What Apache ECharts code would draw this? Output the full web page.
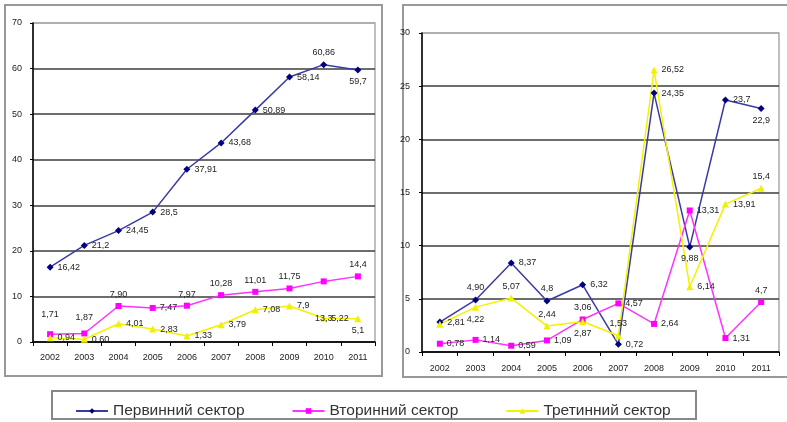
<!DOCTYPE html>
<html><head><meta charset="utf-8">
<script src="https://cdn.jsdelivr.net/npm/echarts@6/dist/echarts.min.js"></script>
<style>html,body{margin:0;padding:0;background:#fff}#c{width:787px;height:422px}</style>
</head><body><div id="c"></div>
<script>
// ---- data ----
const years = ['2002','2003','2004','2005','2006','2007','2008','2009','2010','2011'];
const seriesNames = ['Первинний сектор','Вторинний сектор','Третинний сектор'];
const leftYTicks = [0,10,20,30,40,50,60,70];
const rightYTicks = [0,5,10,15,20,25,30];
const leftPrimary   = ['16.42','21.2','24.45','28.5','37.91','43.68','50.89','58.14','60.86','59.7'];
const leftSecondary = ['1.71','1.87','7.90','7.47','7.97','10.28','11.01','11.75','13.3','14.4'];
const leftTertiary  = ['0.94','0.60','4.01','2.83','1.33','3.79','7.08','7.9','5.22','5.1'];
const rightPrimary   = ['2.81','4.90','8.37','4.8','6.32','0.72','24.35','9.88','23.7','22.9'];
const rightSecondary = ['0.78','1.14','0.59','1.09','3.06','4.57','2.64','13.31','1.31','4.7'];
const rightTertiary  = ['2.61','4.22','5.07','2.44','2.87','1.53','26.52','6.14','13.91','15.4'];

// ---- label placement (style) ----
const posLP = ['right','right','right','right','right','right','right','right','top','bottom'];
const posLS = ['top:12','top:8','top','right','top','top','top','top','bottom:30','top'];
const posLT = ['right','right','right','right','right','right','right','right','right','bottom'];
const posRP = ['right','top','right','top','right','right','right','bottom','right','bottom'];
const posRS = ['right','right','right','right','top','right','right','right','right','top'];
const posRT = ['none','bottom','top','top','bottom','top','right','right','right','top'];

const colors = {
  p: {line:'#3a3aa6', mark:'#000080', sym:'diamond', size:7},
  s: {line:'#ff33ff', mark:'#ff00ff', sym:'rect', size:6},
  t: {line:'#f2f200', mark:'#f0f000', sym:'triangle', size:7}
};
const FONT = 'Liberation Sans, Arial, sans-serif';

function mkData(vals, pos){
  return vals.map((v,i)=>{
    const [p,d] = pos[i].split(':');
    if(p==='none') return {value:Number(v), label:{show:false}};
    return {value:Number(v), label:{show:true, position:p, distance: d?Number(d):4,
      formatter: v.replace('.',',')}};
  });
}
function mkSeries(name, key, vals, pos, idx){
  const c = colors[key];
  return {
    name, type:'line', xAxisIndex:idx, yAxisIndex:idx,
    data: mkData(vals,pos),
    symbol:c.sym, symbolSize:c.size, showAllSymbol:true,
    lineStyle:{color:c.line, width:1.5},
    itemStyle:{color:c.mark},
    label:{color:'#222', fontSize:9, fontFamily:FONT},
    animation:false
  };
}
const gridColors = (n)=>{const a=[];for(let i=0;i<n-1;i++)a.push('#3c3c3c');a.push('#aaaaaa');return a;};

function xAx(idx, margin){
  return {type:'category', gridIndex:idx, data:years, boundaryGap:true,
    axisLine:{lineStyle:{color:'#000', width:1.5}},
    axisTick:{show:true, length:4, lineStyle:{color:'#000'}},
    axisLabel:{color:'#222', fontSize:9, fontFamily:FONT, margin:margin}};
}
function yAx(idx, ticks, margin){
  return {type:'value', gridIndex:idx, min:ticks[0], max:ticks[ticks.length-1],
    interval:ticks[1]-ticks[0],
    axisLine:{show:true, lineStyle:{color:'#000', width:1.5}},
    axisTick:{show:true, length:3, lineStyle:{color:'#000'}},
    axisLabel:{color:'#222', fontSize:9, fontFamily:FONT, margin:margin},
    splitLine:{show:true, lineStyle:{color:gridColors(ticks.length), width:1.5}}};
}

const chart = echarts.init(document.getElementById('c'), null, {renderer:'canvas'});
chart.setOption({
  animation:false,
  backgroundColor:'#fff',
  graphic:[
    {type:'rect', shape:{x:5,y:5,width:377,height:371}, style:{fill:'none', stroke:'#999', lineWidth:2}, z:-1},
    {type:'rect', shape:{x:403,y:5,width:400,height:372}, style:{fill:'none', stroke:'#999', lineWidth:2}, z:-1},
    {type:'rect', shape:{x:52,y:391,width:644,height:28}, style:{fill:'none', stroke:'#888', lineWidth:2}, z:-1}
  ],
  grid:[
    {left:33, right:412, top:23, bottom:80, show:true, borderColor:'#aaa', borderWidth:1.5},
    {left:422, right:8, top:33, bottom:70, show:true, borderColor:'#aaa', borderWidth:1.5}
  ],
  xAxis:[xAx(0,11), xAx(1,12)],
  yAxis:[yAx(0,leftYTicks,11), yAx(1,rightYTicks,12)],
  legend:{
    data:seriesNames, left:70, top:398, itemWidth:32, itemHeight:7, itemGap:47,
    textStyle:{fontSize:15.5, color:'#333', fontFamily:FONT}
  },
  series:[
    mkSeries(seriesNames[0],'p',leftPrimary,posLP,0),
    mkSeries(seriesNames[1],'s',leftSecondary,posLS,0),
    mkSeries(seriesNames[2],'t',leftTertiary,posLT,0),
    mkSeries(seriesNames[0],'p',rightPrimary,posRP,1),
    mkSeries(seriesNames[1],'s',rightSecondary,posRS,1),
    mkSeries(seriesNames[2],'t',rightTertiary,posRT,1)
  ]
});
</script></body></html>
